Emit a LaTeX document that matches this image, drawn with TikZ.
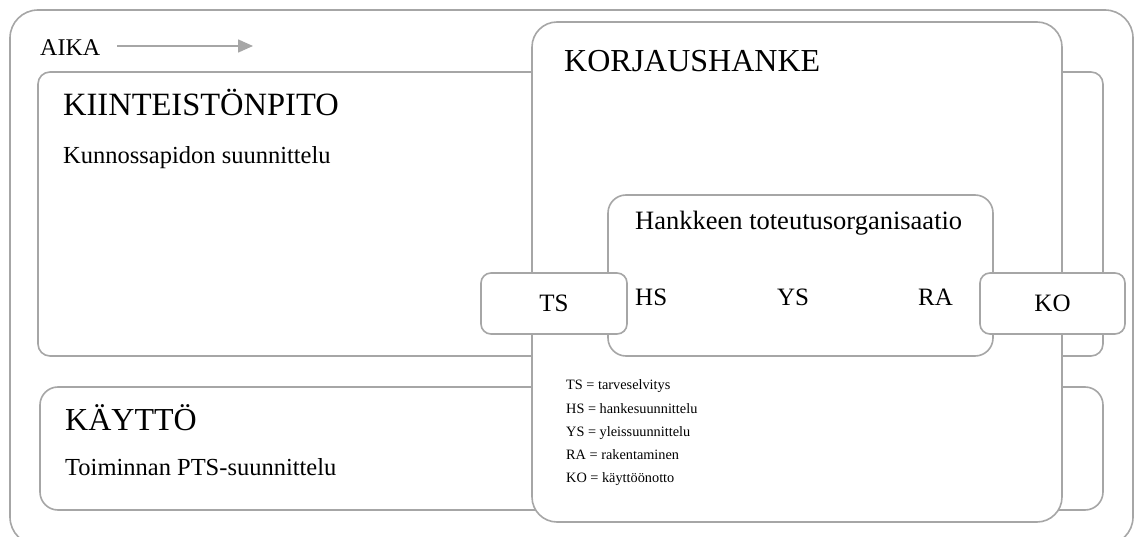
\documentclass[tikz,border=0pt]{standalone}
\usepackage{fontspec}
\setmainfont{Liberation Serif}
\usetikzlibrary{arrows.meta}
\definecolor{frame}{RGB}{166,166,166}
\newcommand{\fs}[1]{\fontsize{#1}{#1}\selectfont}
\tikzset{
  box/.style={draw=frame, line width=1.6pt, fill=white, rectangle, inner sep=0pt, outer sep=0pt},
  lbl/.style={anchor=base west, inner sep=0pt, text=black},
  arr/.style={draw=frame, line width=1.6pt, -{Triangle[length=15pt,width=13pt]}},
}
\begin{document}
\begin{tikzpicture}[x=1pt,y=-1pt]
\useasboundingbox (0,0) rectangle (1138,537);
% frames
\node[box, minimum width=1123pt, minimum height=535pt, rounded corners=28pt] (outer) at (571.5,277.5) {};
\node[box, minimum width=1065pt, minimum height=284pt, rounded corners=12pt] (kiint) at (570.5,214) {};
\node[box, minimum width=1063pt, minimum height=123pt, rounded corners=18pt] (kayt) at (571.5,448.5) {};
\node[box, minimum width=530pt, minimum height=500pt, rounded corners=25pt] (korj) at (797,272) {};
\node[box, minimum width=385pt, minimum height=161pt, rounded corners=18pt] (hank) at (800.5,275.5) {};
\node[box, minimum width=146pt, minimum height=61pt, rounded corners=10pt, font=\fs{25}] (ts) at (554,303.5) {TS};
\node[box, minimum width=145pt, minimum height=61pt, rounded corners=10pt, font=\fs{25}] (ko) at (1052.5,303.5) {KO};
% time arrow
\node[lbl, font=\fs{24}] (aika) at (40,56) {AIKA};
\coordinate (ta) at (117,46);
\coordinate (tb) at (253,46);
\draw[arr] (ta) -- (tb);
% texts
\node[lbl, font=\fs{32.5}] (t1) at (63,116) {KIINTEISTÖNPITO};
\node[lbl, font=\fs{24.5}] (t2) at (63,164) {Kunnossapidon suunnittelu};
\node[lbl, font=\fs{32}] (t3) at (564,72) {KORJAUSHANKE};
\node[lbl, font=\fs{26.5}] (t4) at (635,230) {Hankkeen toteutusorganisaatio};
\node[lbl, font=\fs{25}] (hs) at (635,306) {HS};
\node[anchor=base, inner sep=0pt, font=\fs{25}] (ys) at (793,306) {YS};
\node[lbl, font=\fs{25}] (ra) at (918,306) {RA};
\node[lbl, font=\fs{32}] (t5) at (65,430) {KÄYTTÖ};
\node[lbl, font=\fs{24.5}] (t6) at (65,475) {Toiminnan PTS-suunnittelu};
% legend
\node[lbl, font=\fs{14.3}] (l1) at (566,389) {TS = tarveselvitys};
\node[lbl, font=\fs{14.3}] (l2) at (566,413) {HS = hankesuunnittelu};
\node[lbl, font=\fs{14.3}] (l3) at (566,436) {YS = yleissuunnittelu};
\node[lbl, font=\fs{14.3}] (l4) at (566,459) {RA = rakentaminen};
\node[lbl, font=\fs{14.3}] (l5) at (566,482) {KO = käyttöönotto};
\end{tikzpicture}
\end{document}
